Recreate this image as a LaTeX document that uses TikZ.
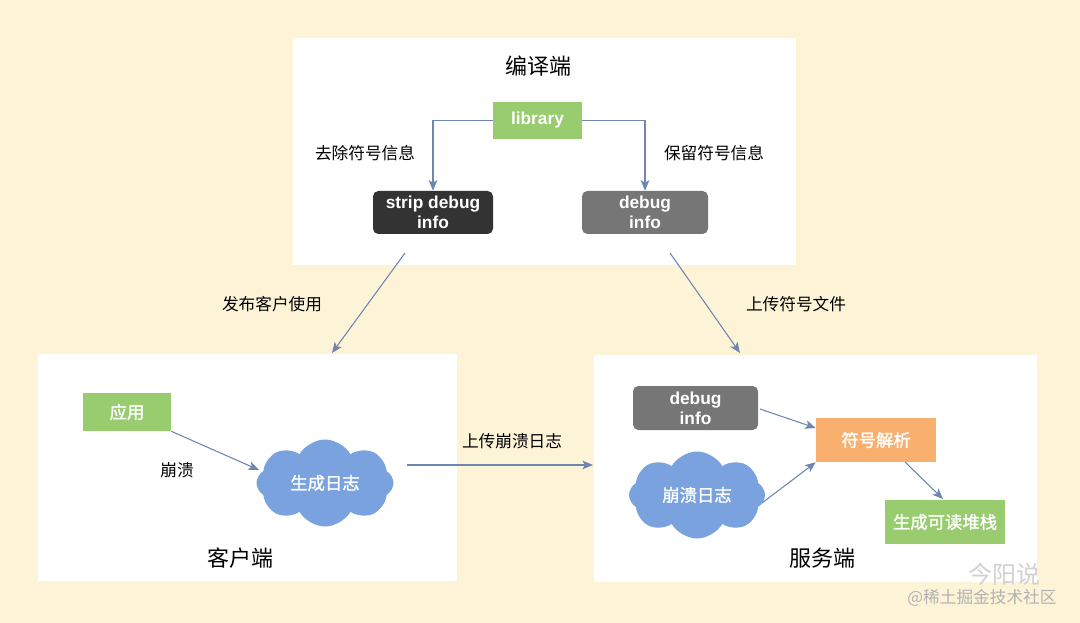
\documentclass[tikz,border=0pt]{standalone}
\usepackage{fontspec}
\setmainfont{Liberation Sans}
\newfontfamily\cjk{Noto Sans CJK SC}
\newfontfamily\cjkb{Noto Sans CJK SC}[FakeBold=1.5]
\usetikzlibrary{shapes.symbols,arrows.meta}
\definecolor{bg}{HTML}{FDF3D7}
\definecolor{gr}{HTML}{98CC6E}
\definecolor{og}{HTML}{F9AF6E}
\definecolor{cl}{HTML}{7AA2DF}
\definecolor{dk}{HTML}{333333}
\definecolor{gy}{HTML}{767676}
\definecolor{ar}{HTML}{6F86B0}
\begin{document}
\begin{tikzpicture}[x=0.75pt,y=-0.75pt,
  panel/.style={fill=white,draw=none},
  box/.style={draw=none,text=white,font=\bfseries\fontsize{13}{15}\selectfont,align=center,inner sep=0pt},
  cbox/.style={draw=none,text=white,font=\cjkb\fontsize{13}{14}\selectfont,align=center,inner sep=0pt},
  cloudbox/.style={cloud,cloud puffs=8,cloud puff arc=120,aspect=1.6,fill=cl,draw=none,text=white,font=\cjkb\fontsize{13}{14}\selectfont,inner sep=0pt},
  lbl/.style={font=\cjk\fontsize{12.5}{14}\selectfont,text=black},
  ttl/.style={font=\cjk\fontsize{16.5}{18}\selectfont,text=black},
  arr/.style={draw=ar,line width=0.8pt,-{Stealth[length=8pt,width=6.5pt,inset=2pt]}}
]
\fill[bg] (0,0) rectangle (1080,623);
\useasboundingbox (0,0) rectangle (1080,623);
% panels
\fill[panel] (293,38) rectangle (796,265);
\fill[panel] (38,354) rectangle (457,581);
\fill[panel] (594,355) rectangle (1037,582);
% top panel
\node[ttl] (t1) at (538,66) {编译端};
\node[box,fill=gr,minimum width=66.75pt,minimum height=27.75pt] (lib) at (537.5,120.5) {library};
\node[box,fill=dk,rounded corners=4pt,minimum width=90pt,minimum height=32.25pt] (strip) at (433,212.5) {strip debug\\info};
\node[box,fill=gy,rounded corners=4pt,minimum width=94.5pt,minimum height=32.25pt] (dbg1) at (645,212.5) {debug\\info};
\node[lbl] (l1) at (365,153) {去除符号信息};
\node[lbl] (l2) at (714,153) {保留符号信息};
\draw[arr] (lib.west) -| (strip.north);
\draw[arr] (lib.east) -| (dbg1.north);
% inter-panel
\coordinate (a1s) at (405,253);
\coordinate (a1e) at (332,353);
\coordinate (a2s) at (670,253);
\coordinate (a2e) at (740,353);
\draw[arr] (a1s) -- (a1e);
\draw[arr] (a2s) -- (a2e);
\node[lbl] (l3) at (272,304) {发布客户使用};
\node[lbl] (l4) at (796,304) {上传符号文件};
% client
\node[cbox,fill=gr,minimum width=66pt,minimum height=28.5pt] (app) at (127,412) {应用};
\node[cloudbox,minimum width=102.75pt,minimum height=65.25pt] (log1) at (325,483) {生成日志};
\draw[arr] (app.south east) -- (259,470);
\node[lbl] (l5) at (177,470) {崩溃};
\node[ttl] (t2) at (240,558) {客户端};
% server
\node[box,fill=gy,rounded corners=4pt,minimum width=93.75pt,minimum height=33pt] (dbg2) at (695.5,408) {debug\\info};
\node[cbox,fill=og,minimum width=90pt,minimum height=33pt] (sym) at (876,440) {符号解析};
\node[cloudbox,minimum width=102pt,minimum height=65.25pt] (log2) at (697,495) {崩溃日志};
\node[cbox,fill=gr,minimum width=90pt,minimum height=33pt] (stk) at (945,522) {生成可读堆栈};
\node[ttl] (t3) at (822,558) {服务端};
\draw[arr] (760,409) -- (sym.west |- 0,428);
\draw[arr] (762,503) -- (sym.south west);
\draw[arr] (905,462) -- (943,499);
\coordinate (a3s) at (407,465);
\coordinate (a3e) at (593,465);
\draw[arr] (a3s) -- (a3e);
\node[lbl] (l6) at (512,441) {上传崩溃日志};
% watermark
\node[font=\cjk\fontsize{18}{20}\selectfont,text=black!18] (wm1) at (1004,574) {今阳说};
\node[font=\cjk\fontsize{12.5}{14}\selectfont,text=black!30] (wm2) at (982,598) {@稀土掘金技术社区};
\end{tikzpicture}
\end{document}
